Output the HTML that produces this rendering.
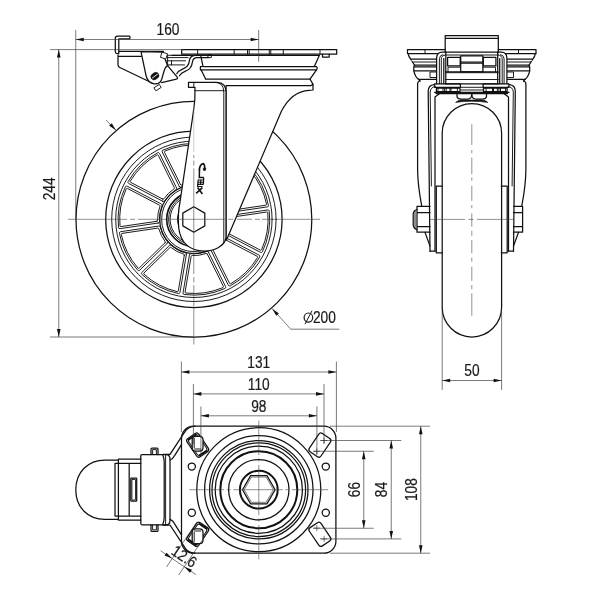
<!DOCTYPE html>
<html><head><meta charset="utf-8"><title>Caster drawing</title>
<style>
html,body{margin:0;padding:0;background:#fff;}
body{width:600px;height:600px;overflow:hidden;font-family:"Liberation Sans",sans-serif;}
svg{display:block;filter:grayscale(1);}
.o{fill:none;stroke:#111;stroke-width:1.25;stroke-linecap:round;stroke-linejoin:round;}
.w{fill:#fff;stroke:#111;stroke-width:1.25;stroke-linecap:round;stroke-linejoin:round;}
.k{fill:none;stroke:#111;stroke-width:2;stroke-linecap:round;stroke-linejoin:round;}
.m{fill:none;stroke:#111;stroke-width:0.95;stroke-linecap:round;stroke-linejoin:round;}
.mw{fill:#fff;stroke:#111;stroke-width:0.95;stroke-linecap:round;stroke-linejoin:round;}
.t{fill:none;stroke:#333;stroke-width:0.65;}
.c{fill:none;stroke:#444;stroke-width:0.6;stroke-dasharray:22 3 5 3;}
.a{fill:#111;stroke:none;}
.f{fill:#111;stroke:#111;stroke-width:0.5;}
.x{font-family:"Liberation Sans",sans-serif;fill:#1a1a1a;stroke:#1a1a1a;stroke-width:0.2;}
</style></head>
<body>
<svg width="600" height="600" viewBox="0 0 600 600">
<rect x="0" y="0" width="600" height="600" fill="#fff"/>
<g>
<circle class="o" cx="193.9" cy="219.3" r="117.9" />
<circle class="o" cx="193.9" cy="219.3" r="88.2" />
<circle class="m" cx="193.9" cy="219.3" r="82.2" />
<circle class="m" cx="193.9" cy="219.3" r="78.2" />
<path class="m" d="M224.97,237.29 L259.1,255.14 Q260.34,255.78 259.66,257 A75.8,75.8 0 0 1 230.22,285.83 Q228.98,286.49 228.36,285.24 L211.24,250.74 Q210.61,249.48 211.82,248.78 A34.5,34.5 0 0 0 223,237.84 Q223.73,236.64 224.97,237.29Z" />
<path class="m" d="M225.12,239.52 L257.19,256.28 Q257.99,256.7 257.53,257.47 A74.2,74.2 0 0 1 230.73,283.71 Q229.95,284.16 229.55,283.35 L213.46,250.94 Q213.06,250.13 213.82,249.65 A36.3,36.3 0 0 0 223.83,239.85 Q224.33,239.1 225.12,239.52Z" />
<path class="m" d="M208.46,252.11 L225.59,286.62 Q226.21,287.87 224.94,288.45 A75.8,75.8 0 0 1 184.18,294.47 Q182.79,294.28 183.02,292.9 L189.45,254.92 Q189.68,253.54 191.07,253.68 A34.5,34.5 0 0 0 206.54,251.4 Q207.84,250.86 208.46,252.11Z" />
<path class="m" d="M207.28,254.01 L223.37,286.42 Q223.77,287.22 222.94,287.58 A74.2,74.2 0 0 1 185.83,293.06 Q184.94,292.96 185.09,292.07 L191.13,256.39 Q191.28,255.5 192.17,255.56 A36.3,36.3 0 0 0 206.03,253.51 Q206.88,253.2 207.28,254.01Z" />
<path class="m" d="M186.39,254.4 L179.97,292.38 Q179.73,293.76 178.36,293.49 A75.8,75.8 0 0 1 141.85,274.4 Q140.84,273.43 141.84,272.45 L169.36,245.5 Q170.36,244.52 171.4,245.46 A34.5,34.5 0 0 0 185.26,252.7 Q186.62,253.02 186.39,254.4Z" />
<path class="m" d="M184.32,255.24 L178.29,290.92 Q178.14,291.81 177.26,291.61 A74.2,74.2 0 0 1 144.02,274.23 Q143.36,273.62 144,272.99 L169.85,247.68 Q170.5,247.05 171.19,247.62 A36.3,36.3 0 0 0 183.61,254.11 Q184.47,254.35 184.32,255.24Z" />
<path class="m" d="M167.19,243.29 L139.67,270.24 Q138.67,271.22 137.72,270.19 A75.8,75.8 0 0 1 119.4,233.28 Q119.16,231.9 120.54,231.7 L158.65,226.07 Q160.03,225.87 160.33,227.24 A34.5,34.5 0 0 0 167.28,241.24 Q168.19,242.31 167.19,243.29Z" />
<path class="m" d="M165.03,242.75 L139.17,268.06 Q138.53,268.69 137.93,268.02 A74.2,74.2 0 0 1 121.26,234.42 Q121.08,233.54 121.97,233.41 L157.77,228.12 Q158.66,227.99 158.88,228.86 A36.3,36.3 0 0 0 165.11,241.41 Q165.67,242.12 165.03,242.75Z" />
<path class="m" d="M158.19,223.01 L120.09,228.63 Q118.7,228.84 118.54,227.45 A75.8,75.8 0 0 1 125.41,186.82 Q126.02,185.56 127.26,186.21 L161.4,204.06 Q162.64,204.71 162.07,205.99 A34.5,34.5 0 0 0 159.46,221.41 Q159.58,222.8 158.19,223.01Z" />
<path class="m" d="M156.76,221.3 L120.96,226.58 Q120.07,226.71 119.99,225.82 A74.2,74.2 0 0 1 126.24,188.84 Q126.62,188.02 127.41,188.43 L159.48,205.2 Q160.28,205.62 159.95,206.45 A36.3,36.3 0 0 0 157.61,220.27 Q157.65,221.17 156.76,221.3Z" />
<path class="m" d="M162.83,201.31 L128.7,183.46 Q127.46,182.82 128.14,181.6 A75.8,75.8 0 0 1 157.58,152.77 Q158.82,152.11 159.44,153.36 L176.56,187.86 Q177.19,189.12 175.98,189.82 A34.5,34.5 0 0 0 164.8,200.76 Q164.07,201.96 162.83,201.31Z" />
<path class="m" d="M162.68,199.08 L130.61,182.32 Q129.81,181.9 130.27,181.13 A74.2,74.2 0 0 1 157.07,154.89 Q157.85,154.44 158.25,155.25 L174.34,187.66 Q174.74,188.47 173.98,188.95 A36.3,36.3 0 0 0 163.97,198.75 Q163.47,199.5 162.68,199.08Z" />
<path class="m" d="M179.34,186.49 L162.21,151.98 Q161.59,150.73 162.86,150.15 A75.8,75.8 0 0 1 203.62,144.13 Q205.01,144.32 204.78,145.7 L198.35,183.68 Q198.12,185.06 196.73,184.92 A34.5,34.5 0 0 0 181.26,187.2 Q179.96,187.74 179.34,186.49Z" />
<path class="m" d="M180.52,184.59 L164.43,152.18 Q164.03,151.38 164.86,151.02 A74.2,74.2 0 0 1 201.97,145.54 Q202.86,145.64 202.71,146.53 L196.67,182.21 Q196.52,183.1 195.63,183.04 A36.3,36.3 0 0 0 181.77,185.09 Q180.92,185.4 180.52,184.59Z" />
<path class="m" d="M201.41,184.2 L207.83,146.22 Q208.07,144.84 209.44,145.11 A75.8,75.8 0 0 1 245.95,164.2 Q246.96,165.17 245.96,166.15 L218.44,193.1 Q217.44,194.08 216.4,193.14 A34.5,34.5 0 0 0 202.54,185.9 Q201.18,185.58 201.41,184.2Z" />
<path class="m" d="M203.48,183.36 L209.51,147.68 Q209.66,146.79 210.54,146.99 A74.2,74.2 0 0 1 243.78,164.37 Q244.44,164.98 243.8,165.61 L217.95,190.92 Q217.3,191.55 216.61,190.98 A36.3,36.3 0 0 0 204.19,184.49 Q203.33,184.25 203.48,183.36Z" />
<path class="m" d="M220.61,195.31 L248.13,168.36 Q249.13,167.38 250.08,168.41 A75.8,75.8 0 0 1 268.4,205.32 Q268.64,206.7 267.26,206.9 L229.15,212.53 Q227.77,212.73 227.47,211.36 A34.5,34.5 0 0 0 220.52,197.36 Q219.61,196.29 220.61,195.31Z" />
<path class="m" d="M222.77,195.85 L248.63,170.54 Q249.27,169.91 249.87,170.58 A74.2,74.2 0 0 1 266.54,204.18 Q266.72,205.06 265.83,205.19 L230.03,210.48 Q229.14,210.61 228.92,209.74 A36.3,36.3 0 0 0 222.69,197.19 Q222.13,196.48 222.77,195.85Z" />
<path class="m" d="M229.61,215.59 L267.71,209.97 Q269.1,209.76 269.26,211.15 A75.8,75.8 0 0 1 262.39,251.78 Q261.78,253.04 260.54,252.39 L226.4,234.54 Q225.16,233.89 225.73,232.61 A34.5,34.5 0 0 0 228.34,217.19 Q228.22,215.8 229.61,215.59Z" />
<path class="m" d="M231.04,217.3 L266.84,212.02 Q267.73,211.89 267.81,212.78 A74.2,74.2 0 0 1 261.56,249.76 Q261.18,250.58 260.39,250.17 L228.32,233.4 Q227.52,232.98 227.85,232.15 A36.3,36.3 0 0 0 230.19,218.33 Q230.15,217.43 231.04,217.3Z" />
<circle class="o" cx="193.9" cy="219.3" r="34.2" />
<circle class="m" cx="193.9" cy="219.3" r="32.3" />
<circle class="o" cx="193.9" cy="219.3" r="27.2" style="stroke-width:1.6"/>
<circle class="m" cx="193.9" cy="219.3" r="25.3" />
<circle class="m" cx="193.9" cy="219.3" r="23.8" />
<circle class="o" cx="194.7" cy="219.3" r="17" />
<path class="w" d="M226,85.6 L311,85.6 L313,84.2 L313,90 L309,90.3 C298,91 288,98.5 281.5,111 L226.5,240 L226,240Z" />
<path class="w" d="M188.5,82.3 L217,82.3 Q226,82.5 226,92 L226,238 C224.2,246.5 214,251 204,251 C190,251 180.6,243 178.7,228 C177.9,218 178.7,208 180,202 L191,128 C191,128 193.5,112 194.8,100 L195,87.3 L188.5,87.3Z" />
<path class="m" d="M215,82.3 Q223.8,82.6 223.8,92 L223.8,243" />
<line class="m" x1="195" y1="90.7" x2="224.2" y2="90.7" />
<line class="m" x1="193.8" y1="82.5" x2="193.8" y2="87.3" />
<polygon class="w" points="193.8,232.2 182.8,225.85 182.8,213.15 193.8,206.8 204.8,213.15 204.8,225.85"/>
<path class="o" d="M172,55.4 L319.3,55.4" />
<path class="o" d="M200.7,55.4 L203,66.4 L200.4,66.6 L200.4,69.8 L201.3,70.2 L205.4,78.6 L205.4,79.1 L310,79.1" />
<path class="o" d="M319.3,55.4 L314.3,66.6 L316.5,66.6 Q317.8,68.2 316.5,69.9 L201,69.9 M203,66.6 L314.3,66.6 M316.5,69.9 L310,79.1 L313,84.2" />
<path class="w" d="M181.7,49.6 L336.7,49.6 L336.7,54.2 L181.7,54.2Z" />
<line class="m" x1="197.6" y1="49.6" x2="197.6" y2="54.2" />
<line class="m" x1="234.2" y1="49.6" x2="234.2" y2="54.2" />
<line class="m" x1="247.5" y1="49.6" x2="247.5" y2="54.2" />
<line class="m" x1="249.2" y1="49.6" x2="249.2" y2="54.2" />
<line class="m" x1="269.3" y1="49.6" x2="269.3" y2="54.2" />
<line class="m" x1="270.8" y1="49.6" x2="270.8" y2="54.2" />
<line class="m" x1="283.3" y1="49.6" x2="283.3" y2="54.2" />
<line class="m" x1="320" y1="49.6" x2="320" y2="54.2" />
<path class="o" d="M322.5,54.2 L322.5,57 L329.2,57 L329.2,54.2" />
<path class="w" d="M129.6,36.1 L117.5,36.1 Q115.3,36.1 115.3,38.3 L115.3,51.8 Q115.3,53.6 117.2,53.6 L118.8,53.6 L118.8,38.8 L129.6,38.8 Q130.6,37.5 129.6,36.1Z" />
<path class="o" d="M118.8,51.4 L163.5,51.4 M118,55 L118,64.5 Q118,66.6 119.8,67.5 L148.5,81.3 M118.8,56.4 L163,56.4" />
<path class="w" d="M141,51.6 L146,75.5 Q147.5,82.5 154,83.8 Q160,84.4 161.6,79.5 L164.3,70.3 Q165,67 167.6,65.6 L165,59 L162.8,52.2Z" />
<path class="o" d="M167.6,65.6 L177.6,77.6 Q177.8,78.8 176.4,79.2 L161.6,82.6" />
<path class="mw" d="M154.2,87.6 L159.3,84.4 L161.2,87.4 L156.2,90.6Z" />
<path class="mw" d="M162.4,52.2 L167.6,53.8 L165.8,59 L160.8,57.4Z" />
<ellipse class="f" cx="154.9" cy="76.1" rx="4.3" ry="3.3" transform="rotate(-35 154.9 76.1)"/>
<line x1="152" y1="78.2" x2="157.8" y2="74" stroke="#fff" stroke-width="0.9"/>
<path class="m" d="M168.5,55.3 L189,55.3 M168,57.6 L188,57.6 M166.8,60.8 L185.5,60.8 M167,64.9 L184.5,64.9" />
<line class="m" x1="167.6" y1="55.3" x2="167.6" y2="65" />
<line class="m" x1="171.5" y1="60.8" x2="171.5" y2="64.9" />
<path class="o" d="M210.8,55.2 L195,55.3 C190.5,55.5 189.6,58 189.3,61 C189,65.5 186.5,67.5 183,68.8 C180,70 178,71.5 176.8,73.8" />
<path class="o" d="M208.3,57.6 L196.5,57.7 C193.5,58 192.6,60 192.3,62.5 C191.8,67.5 189,70 185,71.4 C182,72.6 180.6,73.8 179.4,75.8" />
<path class="m" d="M208.3,54.7 L211.3,54.7 L211.3,57.6 L208.3,57.6Z" />
<g fill="none" stroke="#111" stroke-linecap="butt"><path d="M199.2,170.4 C199.6,166.2 201.6,163.8 203.2,163.6 C204.4,163.8 204.8,166 204.8,169.8" stroke-width="1.7"/><path d="M203.2,168.2 L205.9,168.2 L205.3,170.6 L203.6,170.6Z" fill="#111" stroke-width="0.6"/><path d="M199.5,169.8 L199.3,177.6 L203.8,177.6" stroke-width="1.5"/><path d="M198.2,180 L203.6,180 M198,182.2 L203.4,182.2 M197.8,184.4 L203.2,184.4 M197.6,186.5 L202.6,186.5" stroke-width="1.15"/><path d="M198.2,179.6 L197.5,186.9 M203.7,177.6 L203.4,184.6 M200.8,180 L200.6,184.4" stroke-width="1.2"/><path d="M196.2,193.4 L202.4,187.6 M197.6,187.6 L202.4,194" stroke-width="1.6"/></g>
<path class="c" d="M68,219.3 L320,219.3" style="stroke-dasharray:59 3 5 3 87 3 5 4 15 3 5 2 58"/>
<path class="c" d="M193.8,106 L193.8,152" style="stroke-dasharray:none;stroke:#999;stroke-width:0.5"/>
<path class="c" d="M193.8,155 L193.8,344.5" style="stroke-dasharray:3 2.5 5 3 105.5 3 5.4 2.6 63"/>
</g>
<g>
<path class="o" d="M442.2,133.3 A29.7,29.7 0 0 1 501.6,133.3 L501.6,307.3 A29.7,29.7 0 0 1 442.2,307.3Z" />
<path class="o" d="M420,81 Q417.6,81.5 417.6,84 L417.6,170 C417.8,185 420.2,198 421.7,205.8" />
<path class="o" d="M430,251.2 L428.2,91 Q428.4,85.2 434,84.6" />
<path class="m" d="M431.4,186 L430.2,92 Q430.4,87 435.4,86.6" />
<path class="o" d="M435,251.2 L435,97 L440,93.2" />
<path class="o" d="M430,251.2 L435,251.2" />
<path class="o" d="M442.2,186.2 L436.3,186.2 L436.3,252.8 L442.2,252.8" />
<path class="o" d="M425,232.4 L430,246" />
<path class="o" d="M523.5,81 Q525.9,81.5 525.9,84 L525.9,170 C525.7,185 523.3,198 521.8,205.8" />
<path class="o" d="M513.5,251.2 L515.3,91 Q515.1,85.2 509.5,84.6" />
<path class="m" d="M512.1,186 L513.3,92 Q513.1,87 508.1,86.6" />
<path class="o" d="M508.5,251.2 L508.5,97 L503.5,93.2" />
<path class="o" d="M513.5,251.2 L508.5,251.2" />
<path class="o" d="M501.3,186.2 L507.2,186.2 L507.2,252.8 L501.3,252.8" />
<path class="o" d="M518.5,232.4 L513.5,246" />
<path class="o" d="M430,206.3 L417,206.3 L417,232.2 L430,232.2 M417,212.5 L430,212.5 M417,226.7 L430,226.7" />
<path class="o" d="M417,209.5 Q413.4,210.5 413.2,214 L413.2,225 Q413.4,228.6 417,229.6" />
<path class="m" d="M415,210.6 L415,228.6" />
<path class="o" d="M513.5,206.3 L522.6,206.3 L522.6,232.2 L513.5,232.2 M513.5,212.5 L522.6,212.5 M513.5,226.7 L522.6,226.7" />
<path class="o" d="M445.2,49.7 L407.5,49.7 L407.5,53.7 L437.6,53.7" />
<line class="m" x1="425" y1="49.7" x2="425" y2="53.7" />
<path class="o" d="M408.2,53.7 Q408.6,57 410.8,59.2 L436,59.2" />
<path class="m" d="M410.8,59.2 Q411.2,61 412.5,62 L436,62" />
<path class="o" d="M412.5,62 L414.5,65.2 L436,65.2" />
<path class="o" d="M414.5,65.2 L413.8,66.8 L436,66.8 M413.8,66.8 L413.8,70.8 L436,70.8" />
<path class="o" d="M413.8,70.8 Q415,76.5 418.4,79.3 L436,79.3" />
<path class="o" d="M418.4,79.3 L420,81" />
<path class="m" d="M436,72 L430,72 L430,77.5 L436,77.5" />
<path class="o" d="M436.6,83.8 L436.6,58 Q436.8,52.2 442.5,52.2 L445.4,52.2" />
<path class="m" d="M439.4,83.8 L439.4,58.8 Q439.6,55 443,54.6" />
<path class="m" d="M441.3,83.8 L441.3,59 Q441.5,55.4 445.4,55" />
<path class="o" d="M443.8,83.8 L443.8,58.6" />
<path class="o" d="M434.6,83.8 L460.4,83.8 L460.4,87.3 L434.6,87.3Z" />
<path class="o" d="M436.4,88.2 L460,88.2 L460,91.7 L436.4,91.7Z" />
<line class="m" x1="438" y1="88.2" x2="438" y2="91.7" />
<line class="m" x1="443" y1="88.2" x2="443" y2="91.7" />
<line class="m" x1="444.6" y1="88.2" x2="444.6" y2="91.7" />
<line class="m" x1="446.2" y1="88.2" x2="446.2" y2="91.7" />
<line class="m" x1="450" y1="88.2" x2="450" y2="91.7" />
<line class="m" x1="451" y1="88.2" x2="451" y2="91.7" />
<line class="m" x1="457.4" y1="88.2" x2="457.4" y2="91.7" />
<path class="o" d="M447.6,57.3 L460.2,57.3 L460.2,65.9 L447.6,65.9Z" />
<line class="o" x1="445.8" y1="52.2" x2="445.8" y2="83.8" />
<path class="m" d="M460.4,67.2 L448,67.2 L448,71.7" />
<path class="o" d="M498.3,49.7 L536,49.7 L536,53.7 L505.9,53.7" />
<line class="m" x1="518.5" y1="49.7" x2="518.5" y2="53.7" />
<path class="o" d="M535.3,53.7 Q534.9,57 532.7,59.2 L507.5,59.2" />
<path class="m" d="M532.7,59.2 Q532.3,61 531,62 L507.5,62" />
<path class="o" d="M531,62 L529,65.2 L507.5,65.2" />
<path class="o" d="M529,65.2 L529.7,66.8 L507.5,66.8 M529.7,66.8 L529.7,70.8 L507.5,70.8" />
<path class="o" d="M529.7,70.8 Q528.5,76.5 525.1,79.3 L507.5,79.3" />
<path class="o" d="M525.1,79.3 L523.5,81" />
<path class="m" d="M507.5,72 L513.5,72 L513.5,77.5 L507.5,77.5" />
<path class="o" d="M506.9,83.8 L506.9,58 Q506.7,52.2 501,52.2 L498.1,52.2" />
<path class="m" d="M504.1,83.8 L504.1,58.8 Q503.9,55 500.5,54.6" />
<path class="m" d="M502.2,83.8 L502.2,59 Q502,55.4 498.1,55" />
<path class="o" d="M499.7,83.8 L499.7,58.6" />
<path class="o" d="M508.9,83.8 L483.1,83.8 L483.1,87.3 L508.9,87.3Z" />
<path class="o" d="M507.1,88.2 L483.5,88.2 L483.5,91.7 L507.1,91.7Z" />
<line class="m" x1="505.5" y1="88.2" x2="505.5" y2="91.7" />
<line class="m" x1="500.5" y1="88.2" x2="500.5" y2="91.7" />
<line class="m" x1="498.9" y1="88.2" x2="498.9" y2="91.7" />
<line class="m" x1="497.3" y1="88.2" x2="497.3" y2="91.7" />
<line class="m" x1="493.5" y1="88.2" x2="493.5" y2="91.7" />
<line class="m" x1="492.5" y1="88.2" x2="492.5" y2="91.7" />
<line class="m" x1="486.1" y1="88.2" x2="486.1" y2="91.7" />
<path class="o" d="M495.9,57.3 L483.3,57.3 L483.3,65.9 L495.9,65.9Z" />
<line class="o" x1="497.7" y1="52.2" x2="497.7" y2="83.8" />
<path class="m" d="M483.1,67.2 L495.5,67.2 L495.5,71.7" />
<path class="o" d="M445.2,52.2 L445.2,35.7 L498.3,35.7 L498.3,52.2 M445.2,38.3 L498.3,38.3" />
<line class="o" x1="445.4" y1="52.2" x2="498.2" y2="52.2" />
<line class="m" x1="445.4" y1="55" x2="498.2" y2="55" />
<line class="o" x1="445.4" y1="71.8" x2="498.2" y2="71.8" />
<line class="m" x1="445.4" y1="72.7" x2="498.2" y2="72.7" />
<line class="m" x1="445.4" y1="79.5" x2="498.2" y2="79.5" />
<line class="o" x1="445.4" y1="83.8" x2="498.2" y2="83.8" />
<path class="o" d="M460.7,55.9 L482.9,55.9 L482.9,71.8 L460.7,71.8Z M460.7,62.2 L482.9,62.2" />
<line class="m" x1="460.7" y1="63.3" x2="482.9" y2="63.3" />
<path class="o" d="M434.6,92.4 L508.9,92.4 M436,93.6 L507.5,93.6" />
<line class="m" x1="460.4" y1="87.3" x2="483.1" y2="87.3" />
<line class="m" x1="460.4" y1="90" x2="483.1" y2="90" />
<path class="o" d="M457,94.2 L457,96.6 Q457.6,99 461,99 L468,99 Q471.2,98.6 471.6,96 L471.6,94.2" />
<path class="o" d="M486.5,94.2 L486.5,96.6 Q485.9,99 482.5,99 L475.5,99 Q472.3,98.6 471.9,96 L471.9,94.2" />
<path d="M455.6,102.4 Q458,100 462,100 L481.5,100 Q485.5,100 487.9,102.4 Q480,101.3 471.75,101.3 Q463.5,101.3 455.6,102.4Z" fill="#111" stroke="#111" stroke-width="0.6"/>
<path class="c" d="M471.8,124.2 L471.8,315.8" style="stroke-dasharray:20.8 5 3.3 4.2 16.7 3.3 3.3 5 15 4.2 3.3 5 13.4 4.1 5 4.2 13.3 4.2 4.2 5 14.1 4.2 4.2 4.1 22.5"/>
<path class="c" d="M430,219.4 L513.5,219.4" style="stroke-dasharray:35 3.5 5 3.5 100"/>
</g>
<g>
<rect class="o" x="181.5" y="426.2" width="154.4" height="127" rx="12" />
<circle class="o" cx="258.8" cy="489.7" r="62" />
<circle class="o" cx="258.8" cy="489.7" r="54.2" />
<circle class="o" cx="258.8" cy="489.7" r="49.2" />
<circle class="o" cx="258.8" cy="489.7" r="46.8" />
<circle class="o" cx="258.8" cy="489.7" r="43.6" />
<circle class="k" cx="258.8" cy="489.7" r="38.5" />
<circle class="o" cx="258.8" cy="489.7" r="30.2" />
<circle class="k" cx="258.8" cy="489.7" r="18.9" />
<polygon class="o" points="275.1,489.7 266.95,503.82 250.65,503.82 242.5,489.7 250.65,475.58 266.95,475.58"/>
<polygon class="t" points="273.4,489.7 266.1,502.34 251.5,502.34 244.2,489.7 251.5,477.06 266.1,477.06"/>
<circle class="o" cx="191.8" cy="466.6" r="3.6" />
<circle class="o" cx="191.8" cy="512.8" r="3.6" />
<circle class="o" cx="325.8" cy="466.6" r="3.6" />
<circle class="o" cx="325.8" cy="512.8" r="3.6" />
<rect class="w" x="186.7" y="438.1" width="22" height="14" rx="2.6" transform="rotate(56 197.7 445.1)"/>
<rect class="w" x="186.7" y="527.3" width="22" height="14" rx="2.6" transform="rotate(-56 197.7 534.3)"/>
<rect class="w" x="308.9" y="438.1" width="22" height="14" rx="2.6" transform="rotate(-56 319.9 445.1)"/>
<rect class="w" x="308.9" y="527.3" width="22" height="14" rx="2.6" transform="rotate(56 319.9 534.3)"/>
<rect class="m" x="188" y="439.5" width="19.4" height="11.2" rx="2.4" transform="rotate(56 197.7 445.1)"/>
<path class="k" d="M195.81,434.79 L188.85,439.49" />
<path class="k" d="M206.55,450.71 L199.59,455.41" />
<rect class="w" x="192.2" y="436.4" width="10.8" height="14.8" rx="3.4" />
<path class="m" d="M194.2,438.4 L194.2,447.8 M194.6,449 L200.8,449" />
<rect class="m" x="188" y="528.7" width="19.4" height="11.2" rx="2.4" transform="rotate(-56 197.7 534.3)"/>
<path class="k" d="M188.85,539.91 L195.81,544.61" />
<path class="k" d="M199.59,523.99 L206.55,528.69" />
<rect class="w" x="192.2" y="528.8" width="10.8" height="14.8" rx="3.4" />
<path class="m" d="M194.2,541.6 L194.2,532.2 M194.6,531 L200.8,531" />
<line class="t" x1="321.1" y1="440.5" x2="327.1" y2="440.5" />
<line class="t" x1="324.1" y1="437.5" x2="324.1" y2="443.5" />
<line class="t" x1="313.8" y1="451.3" x2="319.8" y2="451.3" />
<line class="t" x1="316.8" y1="448.3" x2="316.8" y2="454.3" />
<line class="t" x1="321.1" y1="538.9" x2="327.1" y2="538.9" />
<line class="t" x1="324.1" y1="535.9" x2="324.1" y2="541.9" />
<line class="t" x1="313.8" y1="528.1" x2="319.8" y2="528.1" />
<line class="t" x1="316.8" y1="525.1" x2="316.8" y2="531.1" />
<path class="o" d="M163.3,454.4 L170,454.4 L184.6,432.2 Q187.6,426.8 195,426.2" />
<path class="o" d="M170,460 Q173,459 174.6,455.6 L181.5,444.6" />
<path class="o" d="M163.3,525 L170,525 L184.6,547.2 Q187.6,552.6 195,553.2" />
<path class="o" d="M170,519.4 Q173,520.4 174.6,523.8 L181.5,534.8" />
<path class="o" d="M140.8,455.8 Q140.8,454.6 142,454.6 L166,454.6 Q170,454.8 170,459 L170,520.4 Q170,524.6 166,524.8 L142,524.8 Q140.8,524.8 140.8,523.6 Z" />
<path class="o" d="M162.6,454.6 Q164.2,458 164.2,462 L164.2,517.4 Q164.2,521.4 162.6,524.8" />
<path class="m" d="M165.6,454.6 L165.6,524.8" />
<path class="o" d="M151,454.6 L151,449 Q151,448 152,448 L157,448 Q158,448 158,449 L158,454.6" />
<path class="m" d="M152.6,454.6 L152.6,449.6 L156.4,449.6 L156.4,454.6" />
<path class="o" d="M151,524.8 L151,530.4 Q151,531.4 152,531.4 L157,531.4 Q158,531.4 158,530.4 L158,524.8" />
<path class="m" d="M152.6,524.8 L152.6,529.8 L156.4,529.8 L156.4,524.8" />
<path class="o" d="M118.4,459.2 L140.8,459.2 M118.4,520.2 L140.8,520.2 M118.4,459.2 L118.4,520.2" />
<path class="o" d="M115,463.3 L140.8,463.3 M115,516.1 L140.8,516.1 M115,463.3 L115,516.1 M129.2,463.3 L129.2,516.1" />
<rect class="o" x="130.8" y="478.2" width="5.9" height="23" rx="0.6" />
<rect class="m" x="131.9" y="479.4" width="3.7" height="20.6" rx="0.4" />
<path class="o" d="M118.4,460 L105,460 C88,460 75.8,472 75.8,489.7 C75.8,507.4 88,519.4 105,519.4 L118.4,519.4" />
<path class="c" d="M189.3,489.7 L328,489.7" style="stroke-dasharray:34.7 2.7 4 2.6 49.4 2.6 4 2.7 36"/>
<path class="c" d="M258.8,420.7 L258.8,559.3" style="stroke-dasharray:34.3 3.3 3.4 3.3 50 3.3 3.4 3.3 34.3"/>
</g>
<g>
<line class="t" x1="75.75" y1="30" x2="75.75" y2="219.3" />
<line class="t" x1="258.7" y1="30" x2="258.7" y2="61.7" />
<line class="t" x1="75.75" y1="39.5" x2="258.7" y2="39.5" />
<polygon class="a" points="75.75,39.5 83.75,37.7 83.75,41.3"/>
<polygon class="a" points="258.7,39.5 250.7,41.3 250.7,37.7"/>
<text class="x" font-size="15.6" text-anchor="middle" transform="translate(168 35.1) rotate(0) scale(0.88 1)">160</text>
<line class="t" x1="50" y1="49.6" x2="181.7" y2="49.6" />
<line class="t" x1="50" y1="337" x2="193.8" y2="337" />
<line class="t" x1="58.75" y1="49.6" x2="58.75" y2="337" />
<polygon class="a" points="58.75,49.6 60.55,57.6 56.95,57.6"/>
<polygon class="a" points="58.75,337 56.95,329 60.55,329"/>
<text class="x" font-size="15.6" text-anchor="middle" transform="translate(54.7 188.9) rotate(-90) scale(0.88 1)">244</text>
<path class="t" d="M272.2,308.7 L290.8,329.2 L339.2,329.2" />
<polygon class="a" points="272.2,308.7 278.91,313.42 276.24,315.83"/>
<text class="x" font-size="15.6" text-anchor="middle" transform="translate(324.4 322.7) rotate(0) scale(0.88 1)">200</text>
<g transform="translate(308.4 317.6)"><ellipse cx="0" cy="0" rx="4.3" ry="4.6" fill="none" stroke="#1a1a1a" stroke-width="1.2"/><line x1="-3.4" y1="6.6" x2="3.6" y2="-6.8" stroke="#1a1a1a" stroke-width="1"/></g>
<line class="t" x1="106" y1="120" x2="116" y2="130.3" />
<polygon class="a" points="116,130.3 109.14,125.81 111.72,123.31"/>
<line class="t" x1="442.2" y1="309" x2="442.2" y2="390" />
<line class="t" x1="501.6" y1="309" x2="501.6" y2="390" />
<line class="t" x1="442.2" y1="380.5" x2="501.6" y2="380.5" />
<polygon class="a" points="442.2,380.5 450.2,378.7 450.2,382.3"/>
<polygon class="a" points="501.6,380.5 493.6,382.3 493.6,378.7"/>
<text class="x" font-size="15.6" text-anchor="middle" transform="translate(472 376.3) rotate(0) scale(0.88 1)">50</text>
<line class="t" x1="181.4" y1="361.5" x2="181.4" y2="432" />
<line class="t" x1="336.4" y1="361.5" x2="336.4" y2="432" />
<line class="t" x1="181.4" y1="372" x2="336.4" y2="372" />
<polygon class="a" points="181.4,372 189.4,370.2 189.4,373.8"/>
<polygon class="a" points="336.4,372 328.4,373.8 328.4,370.2"/>
<text class="x" font-size="15.6" text-anchor="middle" transform="translate(258.8 368.4) rotate(0) scale(0.88 1)">131</text>
<line class="t" x1="193.4" y1="384" x2="193.4" y2="444" />
<line class="t" x1="324" y1="384" x2="324" y2="444" />
<line class="t" x1="193.4" y1="393.9" x2="324" y2="393.9" />
<polygon class="a" points="193.4,393.9 201.4,392.1 201.4,395.7"/>
<polygon class="a" points="324,393.9 316,395.7 316,392.1"/>
<text class="x" font-size="15.6" text-anchor="middle" transform="translate(258.8 390.1) rotate(0) scale(0.88 1)">110</text>
<line class="t" x1="200.9" y1="406.5" x2="200.9" y2="455" />
<line class="t" x1="316.9" y1="406.5" x2="316.9" y2="455" />
<line class="t" x1="200.9" y1="415.8" x2="316.9" y2="415.8" />
<polygon class="a" points="200.9,415.8 208.9,414 208.9,417.6"/>
<polygon class="a" points="316.9,415.8 308.9,417.6 308.9,414"/>
<text class="x" font-size="15.6" text-anchor="middle" transform="translate(258.8 411.7) rotate(0) scale(0.88 1)">98</text>
<line class="t" x1="313" y1="451.25" x2="373.75" y2="451.25" />
<line class="t" x1="313" y1="528.25" x2="373.75" y2="528.25" />
<line class="t" x1="363.75" y1="451.25" x2="363.75" y2="528.25" />
<polygon class="a" points="363.75,451.25 365.55,459.25 361.95,459.25"/>
<polygon class="a" points="363.75,528.25 361.95,520.25 365.55,520.25"/>
<text class="x" font-size="15.6" text-anchor="middle" transform="translate(360 489.6) rotate(-90) scale(0.88 1)">66</text>
<line class="t" x1="320" y1="440.5" x2="401.25" y2="440.5" />
<line class="t" x1="320" y1="538.9" x2="401.25" y2="538.9" />
<line class="t" x1="391.25" y1="440.5" x2="391.25" y2="538.9" />
<polygon class="a" points="391.25,440.5 393.05,448.5 389.45,448.5"/>
<polygon class="a" points="391.25,538.9 389.45,530.9 393.05,530.9"/>
<text class="x" font-size="15.6" text-anchor="middle" transform="translate(386.7 489.6) rotate(-90) scale(0.88 1)">84</text>
<line class="t" x1="330" y1="426.2" x2="430" y2="426.2" />
<line class="t" x1="330" y1="553.2" x2="430" y2="553.2" />
<line class="t" x1="420.75" y1="426.2" x2="420.75" y2="553.2" />
<polygon class="a" points="420.75,426.2 422.55,434.2 418.95,434.2"/>
<polygon class="a" points="420.75,553.2 418.95,545.2 422.55,545.2"/>
<text class="x" font-size="15.6" text-anchor="middle" transform="translate(416.7 489.6) rotate(-90) scale(0.88 1)">108</text>
<line class="t" x1="160.59" y1="550.77" x2="195.91" y2="574.59" />
<polygon class="a" points="172.2,558.6 164.56,555.62 166.57,552.63"/>
<polygon class="a" points="184.3,566.76 191.94,569.75 189.93,572.73"/>
<line class="t" x1="196.86" y1="522.04" x2="166.61" y2="566.89" />
<line class="t" x1="208.96" y1="530.2" x2="178.71" y2="575.05" />
<text class="x" font-size="15.6" text-anchor="middle" transform="translate(181.37 560.92) rotate(34) scale(0.88 1)">12.6</text>
</g>
</svg>
</body></html>
